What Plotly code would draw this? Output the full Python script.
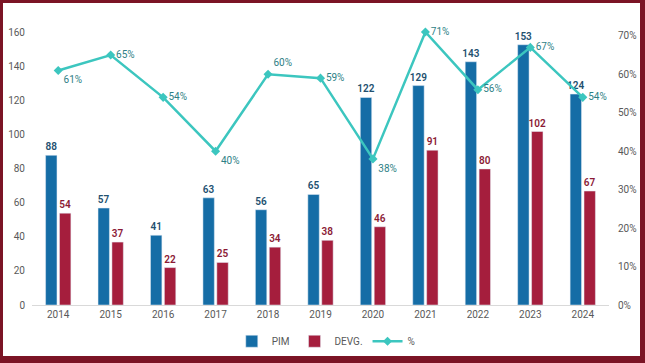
import plotly.graph_objects as go

years = ["2014", "2015", "2016", "2017", "2018", "2019", "2020", "2021", "2022", "2023", "2024"]
pim = [88, 57, 41, 63, 56, 65, 122, 129, 143, 153, 124]
devg = [54, 37, 22, 25, 34, 38, 46, 91, 80, 102, 67]
pct = [0.61, 0.65, 0.54, 0.40, 0.60, 0.59, 0.38, 0.71, 0.56, 0.67, 0.54]

pct_pos = ["bottom right", "middle right", "middle right", "bottom right", "top right",
           "middle right", "bottom right", "middle right", "middle right", "middle right", "middle right"]

W, H = 645, 363
L, R, T, B = 32, 36, 32, 58
pw, ph = W - L - R, H - T - B
FONT = "Liberation Sans Narrow, Arial Narrow, Roboto, sans-serif"
BORDER = "#7b1425"

fig = go.Figure()
fig.add_trace(go.Bar(
    x=years, y=pim, name="PIM", marker_color="#156da6",
    text=[str(v) for v in pim], textposition="outside", constraintext="none",
    textfont=dict(color="#22506f", size=10, family=FONT, weight=600), cliponaxis=False,
))
fig.add_trace(go.Bar(
    x=years, y=devg, name="DEVG.", marker_color="#a51e3d",
    text=[str(v) for v in devg], textposition="outside", constraintext="none",
    textfont=dict(color="#8b1a35", size=10, family=FONT, weight=600), cliponaxis=False,
))
fig.add_trace(go.Scatter(
    x=years, y=pct, name="%", yaxis="y2", mode="lines+markers+text",
    line=dict(color="#3cc6bf", width=2.5),
    marker=dict(symbol="diamond", size=7, color="#3cc6bf"),
    text=[f"{round(v*100)}%" for v in pct], textposition=pct_pos,
    textfont=dict(color="#2e7f86", size=10, family=FONT), cliponaxis=False,
))

shapes = []
def prect(x0, y0, x1, y1):
    # pixel coords (top-left origin) -> paper coords
    return dict(type="rect", xref="paper", yref="paper",
                x0=(x0 - L) / pw, x1=(x1 - L) / pw,
                y0=(H - B - y1) / ph, y1=(H - B - y0) / ph,
                fillcolor=BORDER, line=dict(width=0), layer="above")
shapes += [prect(0, 0, W, 3), prect(0, 0, 3, H), prect(W - 5, 0, W, H), prect(0, H - 7, W, H)]

fig.update_layout(
    width=W, height=H,
    margin=dict(l=L, r=R, t=T, b=B, autoexpand=False),
    paper_bgcolor="white", plot_bgcolor="white",
    font=dict(family=FONT, size=10, color="#595959"),
    barmode="group", bargap=0.47, bargroupgap=0.18,
    xaxis=dict(range=[-0.5, 10.5], showline=True, linecolor="#d9d9d9", linewidth=1, ticks="",
               automargin=False, tickfont=dict(size=10, color="#595959"), showgrid=False),
    yaxis=dict(range=[0, 160.5], dtick=20, showgrid=False, zeroline=False, automargin=False,
               tickfont=dict(size=10, color="#595959"), ticks="", ticklabelstandoff=6),
    yaxis2=dict(range=[0, 0.71], dtick=0.1, tickformat=".0%", overlaying="y", side="right",
                showgrid=False, zeroline=False, automargin=False,
                tickfont=dict(size=10, color="#595959"), ticklabelstandoff=8),
    legend=dict(orientation="h", x=0.51, xanchor="center", yref="container", y=0.06, yanchor="middle",
                font=dict(size=10, color="#595959"), itemwidth=30, tracegroupgap=0,
                traceorder="normal"),
    shapes=shapes,
)

fig.write_html("out.html", config={"displayModeBar": False},
               post_script="document.body.style.margin='0';document.body.style.overflow='hidden';")
